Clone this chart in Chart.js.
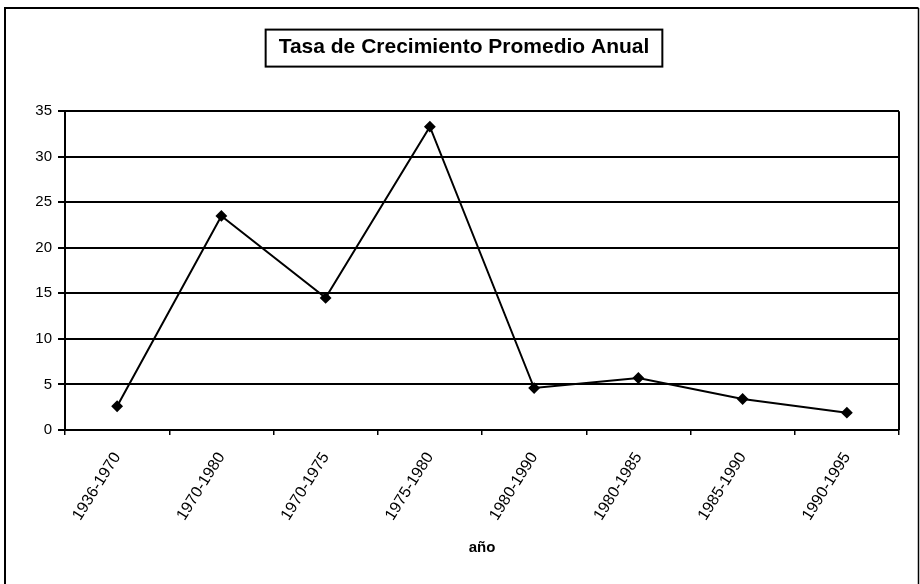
<!DOCTYPE html>
<html><head><meta charset="utf-8">
<script src="https://cdn.jsdelivr.net/npm/chart.js@4/dist/chart.umd.min.js"></script>
<style>html,body{margin:0;padding:0;background:#fff}#wrap{width:920px;height:584px;position:relative}</style>
</head><body><div id="wrap"><canvas id="c"></canvas></div>
<script>
const categories = ['1936-1970','1970-1980','1970-1975','1975-1980','1980-1990','1980-1985','1985-1990','1990-1995'];
const tasa = [2.6, 23.5, 14.5, 33.3, 4.6, 5.7, 3.4, 1.9];
const yTicks = [0, 5, 10, 15, 20, 25, 30, 35];
const chartTitle = 'Tasa de Crecimiento Promedio Anual';
const xTitle = 'año';

const FONT = '"Liberation Sans", Arial, Helvetica, sans-serif';

const framePlugin = {
  id: 'frame',
  afterDraw(chart) {
    const ctx = chart.ctx, a = chart.chartArea;
    ctx.save();
    ctx.strokeStyle = '#000';
    ctx.lineWidth = 2;
    // outer frame (left, top, right)
    ctx.beginPath();
    ctx.moveTo(5, chart.height);
    ctx.lineTo(5, 8);
    ctx.lineTo(chart.width - 1.5, 8);
    ctx.stroke();
    ctx.lineWidth = 1.5;
    ctx.beginPath();
    ctx.moveTo(chart.width - 1.5, 8);
    ctx.lineTo(chart.width - 1.5, chart.height);
    ctx.stroke();
    // plot area right edge
    ctx.lineWidth = 2;
    ctx.beginPath();
    ctx.moveTo(a.right, a.top);
    ctx.lineTo(a.right, a.bottom);
    ctx.stroke();
    // title box
    const t = chart.titleBlock;
    const to = chart.options.plugins.title;
    ctx.font = 'bold ' + to.font.size + 'px ' + FONT;
    const w = ctx.measureText(chartTitle).width;
    const cx = (t.left + t.right) / 2;
    const cy = t.top + to.padding.top + to.font.size * 0.6;
    ctx.strokeRect(cx - w / 2 - 13, cy - 18, w + 26, 37);
    ctx.restore();
  }
};

new Chart(document.getElementById('c'), {
  type: 'line',
  data: {
    labels: categories,
    datasets: [{
      data: tasa,
      borderColor: '#000',
      backgroundColor: '#000',
      borderWidth: 2,
      pointStyle: 'rectRot',
      pointRadius: 4.5,
      pointBackgroundColor: '#000',
      pointBorderColor: '#000',
      tension: 0,
      fill: false
    }]
  },
  options: {
    responsive: true,
    maintainAspectRatio: false,
    animation: false,
    layout: { padding: { left: 29, right: 21, top: 0, bottom: 27 } },
    plugins: {
      legend: { display: false },
      tooltip: { enabled: false },
      title: {
        display: true,
        text: chartTitle,
        color: '#000',
        font: { family: FONT, size: 21, weight: 'bold' },
        padding: { top: 35, bottom: 51 }
      }
    },
    scales: {
      x: {
        offset: true,
        grid: { display: true, drawOnChartArea: false, drawTicks: true, tickLength: 5, color: '#000', lineWidth: 1.5, offset: true },
        border: { display: true, color: '#000', width: 2 },
        ticks: { color: '#000', font: { family: FONT, size: 16 }, minRotation: 58, maxRotation: 58, padding: 14, autoSkip: false },
        title: { display: true, text: xTitle, color: '#000', font: { family: FONT, size: 15, weight: 'bold' }, padding: { top: 1, bottom: 0 } }
      },
      y: {
        min: 0,
        max: 35,
        afterBuildTicks(scale) { scale.ticks = yTicks.map(v => ({ value: v })); },
        afterFit(scale) { scale.width = 36; },
        grid: { color: '#000', lineWidth: 2, tickLength: 7, drawTicks: true },
        border: { display: true, color: '#000', width: 2 },
        ticks: { color: '#000', font: { family: FONT, size: 15 }, padding: 6 }
      }
    }
  },
  plugins: [framePlugin]
});
</script>
</body></html>
